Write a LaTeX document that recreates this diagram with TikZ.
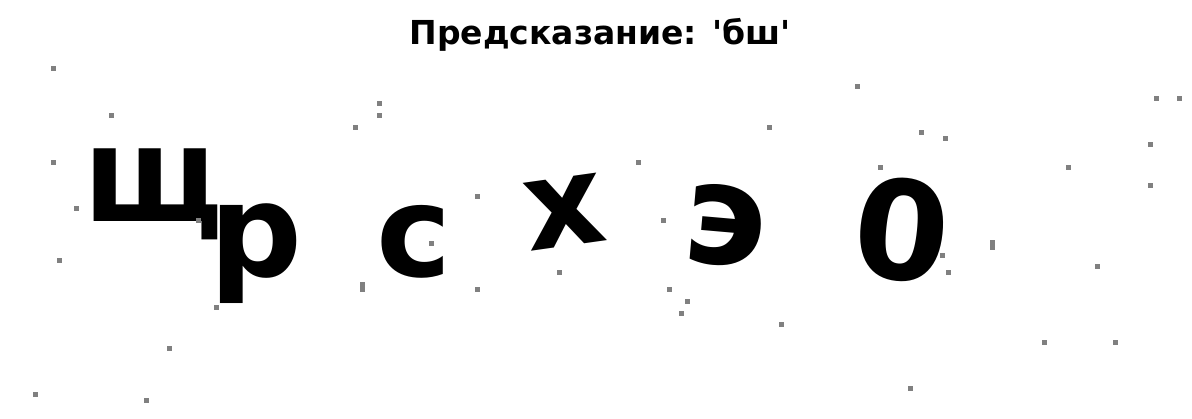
\documentclass[tikz,border=0pt]{standalone}
\usepackage{fontspec}
\setmainfont{DejaVu Sans}
\tikzset{
	heading/.style = {font=\fontsize{33}{40}\selectfont\bfseries, inner sep=0, anchor=base},
	letter/.style = {font=\fontsize{#1}{#1}\selectfont\bfseries, inner sep=0, anchor=base},
	noise/.style = {fill=black!50},
}

\begin{document}
\begin{tikzpicture}[x=1pt, y=-1pt]
\useasboundingbox[fill=white] (0,0) rectangle (1192,418);
\node[heading] (title) at (600,44) {Предсказание: \textquotesingle бш\textquotesingle};
% the captcha characters
\node[letter=133, xscale=0.95] (sha) at (153,221) {щ};
\node[letter=130] (er) at (256,276) {р};
\node[letter=127] (es) at (414,276) {с};
\node[letter=125, rotate=8] (ha) at (569,246) {х};
\node[letter=141, rotate=-5] (e) at (722,264) {э};
\node[letter=137, rotate=-6] (zero) at (897,279) {0};
% noise
\foreach \x/\y in {53/68, 111/115, 53/162, 76/208, 59/260, 169/348, 35/394, 146/400,
		216/307, 198/220, 379/103, 379/115, 355/127, 477/196, 431/243, 477/289,
		559/272, 638/162, 857/86, 1156/98, 1179/98, 769/127, 921/132, 945/138,
		1150/144, 880/167, 1068/167, 1150/185, 663/220, 942/255, 948/272, 1097/266,
		669/289, 687/301, 681/313, 781/324, 1044/342, 1115/342, 910/388}
	\fill[noise] (\x-2.5,\y-2.5) rectangle +(5,5);
\foreach \x/\y in {362/287, 992/245}
	\fill[noise] (\x-2.5,\y-5) rectangle +(5,10);
\end{tikzpicture}
\end{document}
